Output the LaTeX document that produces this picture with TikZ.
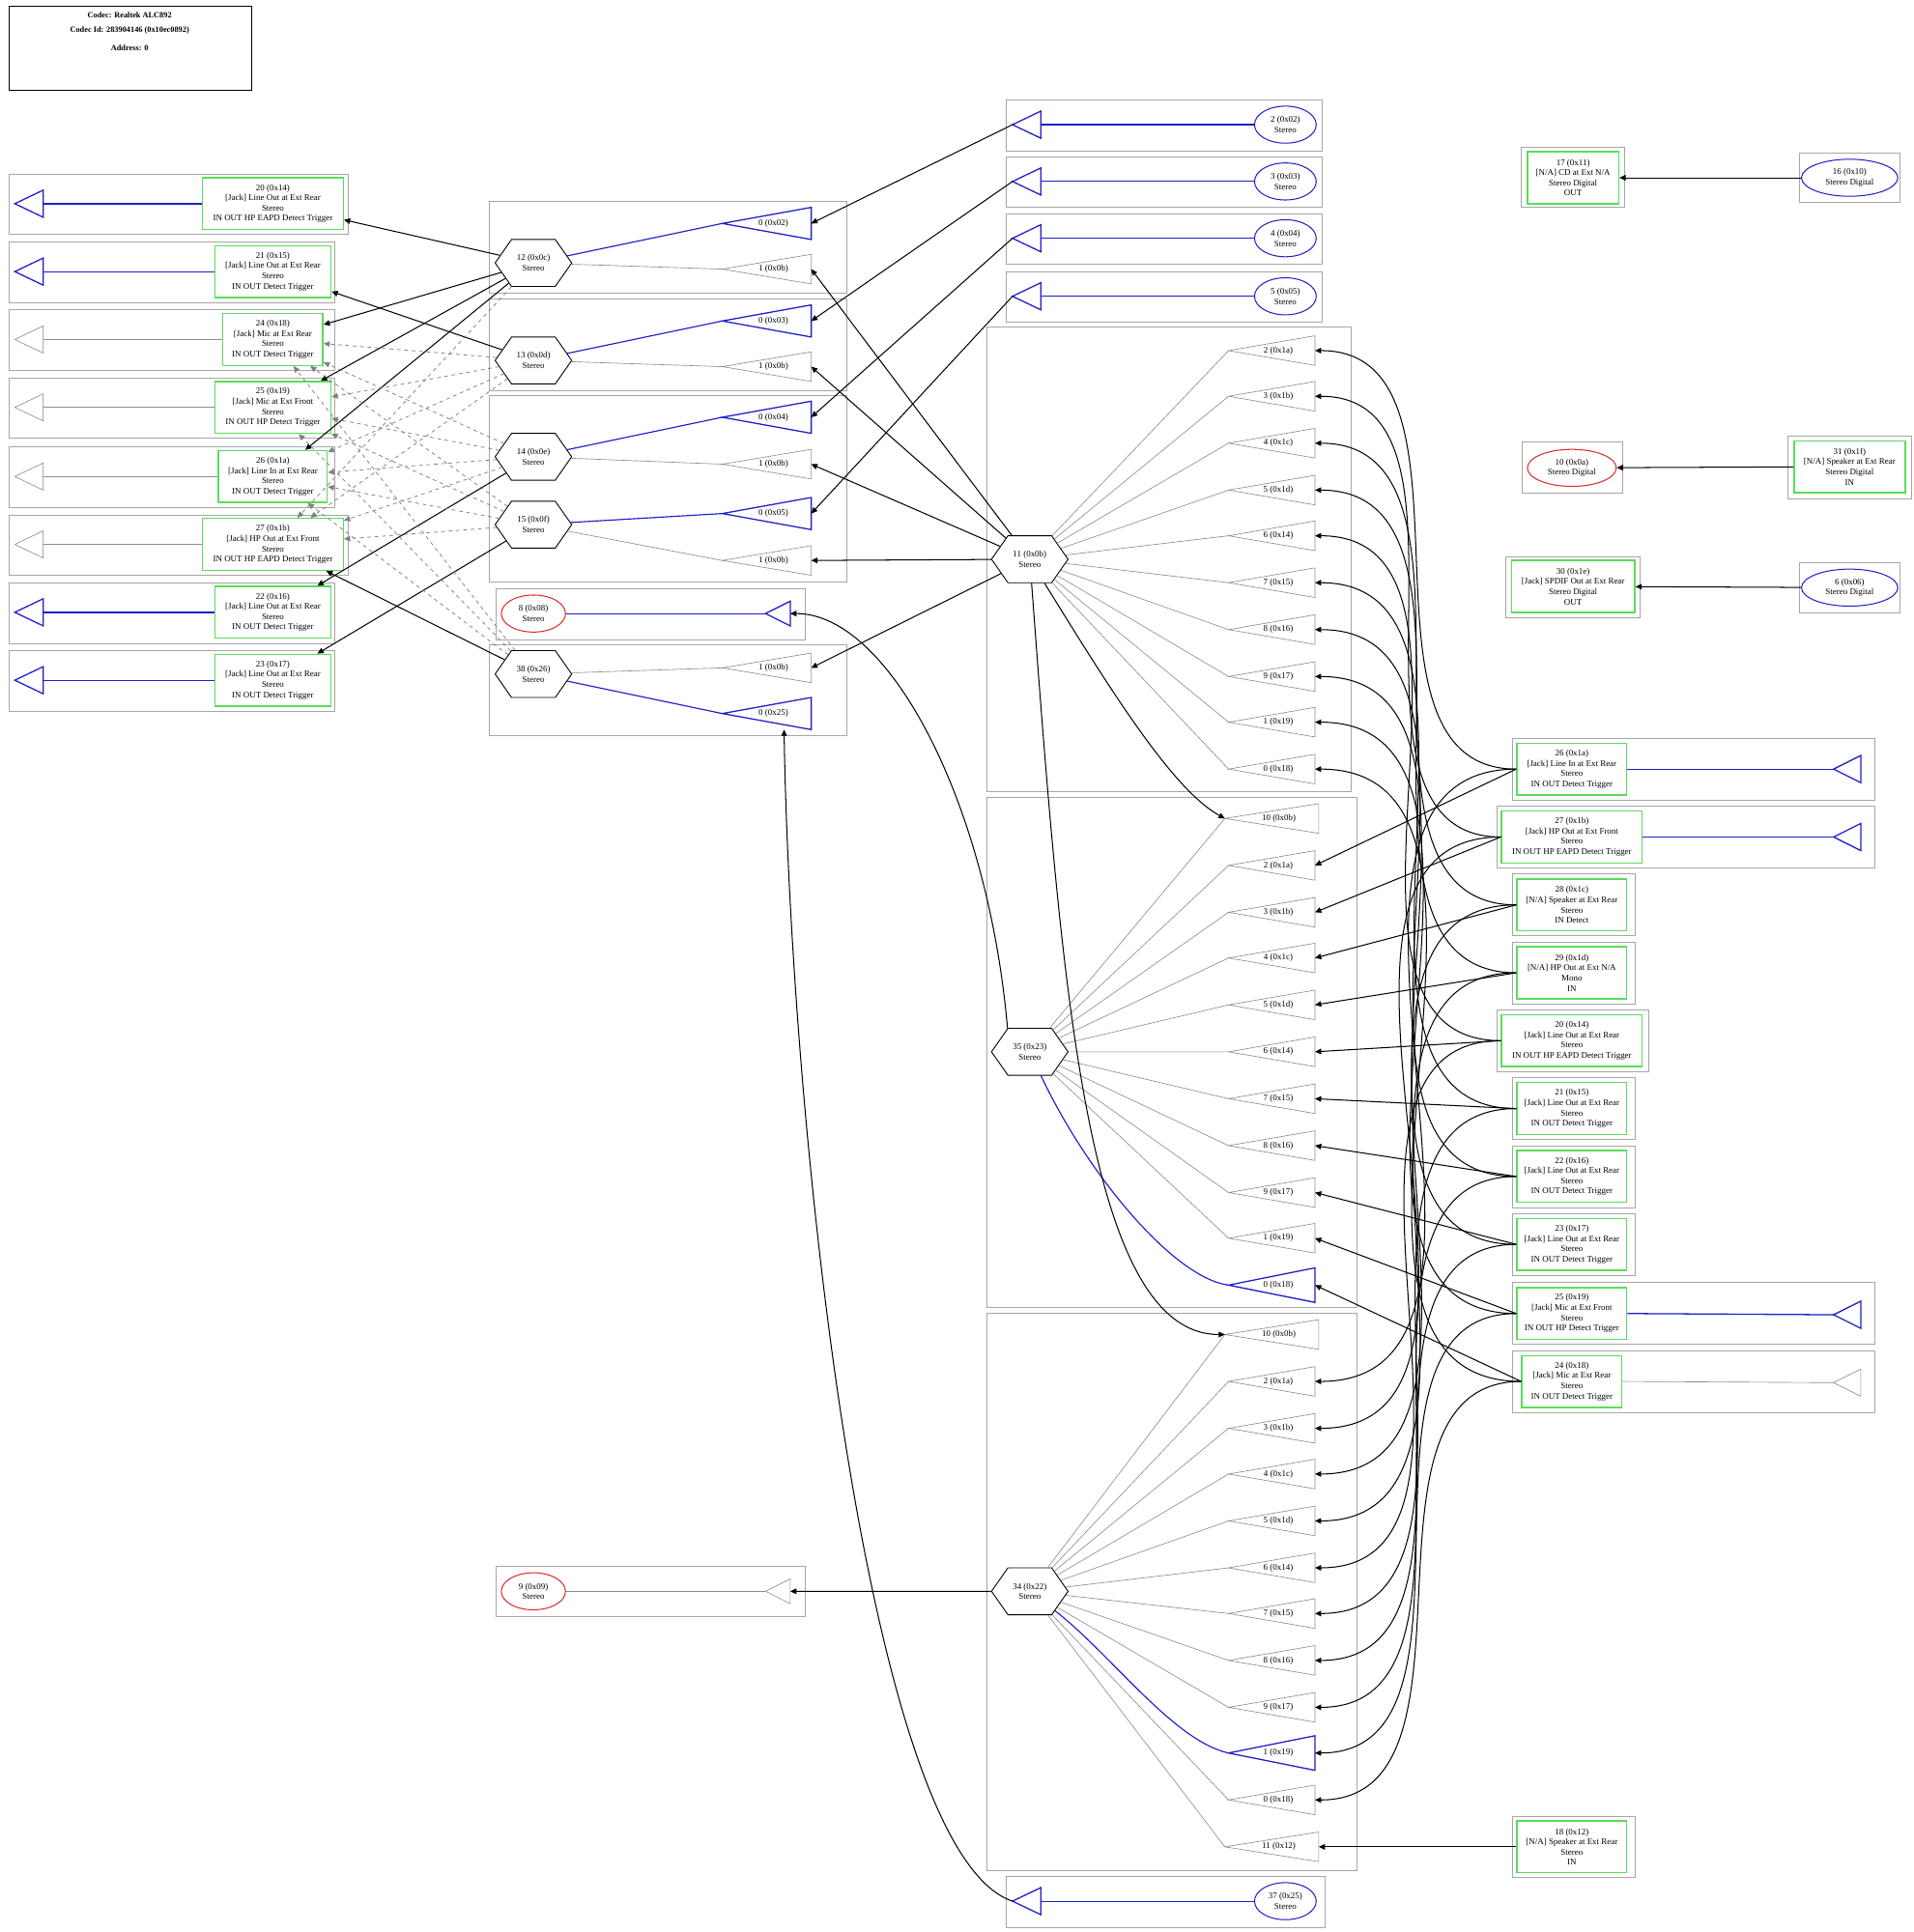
\documentclass[tikz,border=0pt]{standalone}
\usepackage{fontspec}
\setmainfont{Liberation Serif}
\usetikzlibrary{shapes.geometric,shapes.symbols,arrows.meta}
\definecolor{pg}{RGB}{90,220,90}
\definecolor{bl}{RGB}{30,30,200}
\definecolor{rd}{RGB}{220,40,40}
\newcommand\mytri[7]{%
 \draw[#7] ({#2-#4},#3) -- ({#2+#4},{#3-#5}) -- ({#2+#4},{#3+#5}) -- cycle;
 \coordinate (#1t) at ({#2-#4},#3); \coordinate (#1b) at ({#2+#4},#3);
 \node at ({#2+#4*0.15},#3) {#6};}
\newcommand\pinbox[6]{\node[pin,minimum width=#4,minimum height=#5] (#1) at (#2,#3) {#6};}
\begin{document}
\begin{tikzpicture}[x=1pt,y=-1pt,font=\fontsize{7}{8.3}\selectfont,
 clu/.style={draw=black!35,line width=0.5},
 pin/.style={draw=pg,line width=1.1,inner sep=0,align=center},
 hex/.style={signal,signal to=west and east,signal pointer angle=110,draw,minimum width=62,minimum height=38,inner sep=0,align=center,line width=0.7},
 ell/.style={ellipse,draw,align=center,inner sep=0,line width=0.8},
 arr/.style={-{Triangle[length=5pt,width=4.5pt]},line width=0.8},
 gl/.style={draw=black!45,line width=0.5},
 bt/.style={draw=bl,line width=1},
 bline/.style={draw=bl,line width=0.9},
 dsh/.style={-{Triangle[length=5pt,width=4.5pt]},draw=black!50,dashed,line width=0.6}]
\useasboundingbox (0,0) rectangle (1550,1565);
% codec box
\draw (7,5) rectangle (204,73);
\node[font=\fontsize{6.5}{7}\selectfont\bfseries] at (105,12) {Codec: Realtek ALC892};
\node[font=\fontsize{6.5}{7}\selectfont\bfseries] at (105,25) {Codec Id: 283904146 (0x10ec0892)};
\node[font=\fontsize{6.5}{7}\selectfont\bfseries] at (105,39) {Address: 0};
% ---------- left pins
\foreach \n/\y/\w/\xr/\txt/\st in {
 L20/165/114/282/{20 (0x14)\\{[Jack]} Line Out at Ext Rear\\Stereo\\IN OUT HP EAPD Detect Trigger}/bt,
 L21/220/94/271/{21 (0x15)\\{[Jack]} Line Out at Ext Rear\\Stereo\\IN OUT Detect Trigger}/bt,
 L24/275/81/271/{24 (0x18)\\{[Jack]} Mic at Ext Rear\\Stereo\\IN OUT Detect Trigger}/gl,
 L25/330/94/271/{25 (0x19)\\{[Jack]} Mic at Ext Front\\Stereo\\IN OUT HP Detect Trigger}/gl,
 L26/386/88/271/{26 (0x1a)\\{[Jack]} Line In at Ext Rear\\Stereo\\IN OUT Detect Trigger}/gl,
 L27/441/114/282/{27 (0x1b)\\{[Jack]} HP Out at Ext Front\\Stereo\\IN OUT HP EAPD Detect Trigger}/gl,
 L22/496/94/271/{22 (0x16)\\{[Jack]} Line Out at Ext Rear\\Stereo\\IN OUT Detect Trigger}/bt,
 L23/551/94/271/{23 (0x17)\\{[Jack]} Line Out at Ext Rear\\Stereo\\IN OUT Detect Trigger}/bt}{
 \draw[clu] (7,\y-24) rectangle (\xr,\y+25);
 \pinbox{\n}{221}{\y}{\w}{42}{\txt}
 \draw[\st] (12,\y) -- (35,\y-11) -- (35,\y+11) -- cycle;
 \draw[\st] (\n.west) -- (35,\y);
}
% ---------- middle clusters
\draw[clu] (396,163) rectangle (686,237);
\draw[clu] (396,242) rectangle (686,316);
\draw[clu] (396,320) rectangle (686,471);
\draw[clu] (402,477) rectangle (652,518);
\draw[clu] (396,522) rectangle (686,596);
\draw[clu] (402,1269) rectangle (652,1309);
\node[hex] (h12) at (432,213) {12 (0x0c)\\Stereo};
\node[hex] (h13) at (432,292) {13 (0x0d)\\Stereo};
\node[hex] (h14) at (432,370) {14 (0x0e)\\Stereo};
\node[hex] (h15) at (432,425) {15 (0x0f)\\Stereo};
\node[hex] (h38) at (432,546) {38 (0x26)\\Stereo};
\mytri{d02}{621}{181}{36}{13}{0 (0x02)}{bt}
\mytri{x12}{621}{218}{36}{12}{1 (0x0b)}{gl}
\mytri{d03}{621}{260}{36}{13}{0 (0x03)}{bt}
\mytri{x13}{621}{297}{36}{12}{1 (0x0b)}{gl}
\mytri{d04}{621}{338}{36}{13}{0 (0x04)}{bt}
\mytri{x14}{621}{376}{36}{12}{1 (0x0b)}{gl}
\mytri{d05}{621}{416}{36}{13}{0 (0x05)}{bt}
\mytri{x15}{621}{454}{36}{12}{1 (0x0b)}{gl}
\mytri{x38}{621}{541}{36}{12}{1 (0x0b)}{gl}
\mytri{d25}{621}{578}{36}{13}{0 (0x25)}{bt}
\node[ell,draw=rd,minimum width=52,minimum height=30] (e8) at (432,497) {8 (0x08)\\Stereo};
\draw[bt] (620,497) -- (640,487) -- (640,507) -- cycle; \coordinate (a8b) at (640,497);
\draw[bline] (e8) -- (620,497);
\node[ell,draw=rd,minimum width=52,minimum height=30] (e9) at (432,1289) {9 (0x09)\\Stereo};
\draw[gl] (620,1289) -- (640,1279) -- (640,1299) -- cycle; \coordinate (a9b) at (640,1289);
\draw[gl] (e9) -- (620,1289);
\foreach \h/\a/\b in {h12/d02/x12,h13/d03/x13,h14/d04/x14,h15/d05/x15,h38/d25/x38}{
 \draw[bline] (\h) -- (\a t); \draw[gl] (\h) -- (\b t);}
% left pin connections
\foreach \h/\p in {h12/L20,h12/L24,h12/L25,h12/L26,h13/L21,h14/L22,h15/L23,h38/L27}{\draw[arr] (\h) -- (\p);}
\foreach \h/\p in {h12/L27,h13/L24,h13/L25,h13/L26,h13/L27,h14/L24,h14/L25,h14/L26,h14/L27,h15/L24,h15/L25,h15/L26,h15/L27,h38/L24,h38/L25,h38/L26}{\draw[dsh] (\h) -- (\p);}
% ---------- top DAC clusters
\foreach \k/\y in {2/101,3/147,4/193,5/240}{
 \draw[clu] (815,\y-20) rectangle (1071,\y+21);
 \node[ell,draw=bl,minimum width=50,minimum height=30] (E\k) at (1041,\y) {\k\ (0x0\k)\\Stereo};
 \draw[bt] (820,\y) -- (843,\y-11) -- (843,\y+11) -- cycle;
 \coordinate (T\k t) at (820,\y);
 \draw[bline] (E\k) -- (843,\y);}
\draw[arr] (T2t) -- (d02b); \draw[arr] (T3t) -- (d03b);
\draw[arr] (T4t) -- (d04b); \draw[arr] (T5t) -- (d05b);
\draw[clu] (815,1520) rectangle (1073,1561);
\node[ell,draw=bl,minimum width=50,minimum height=30] (E37) at (1041,1540) {37 (0x25)\\Stereo};
\draw[bt] (820,1540) -- (843,1529) -- (843,1551) -- cycle; \coordinate (T37t) at (820,1540);
\draw[bline] (E37) -- (843,1540);
\draw[arr] (T37t) .. controls (700,1500) and (640,900) .. (635,591);
% ---------- right pins
\foreach \n/\y/\w/\txt in {
 R1a/623/89/{26 (0x1a)\\{[Jack]} Line In at Ext Rear\\Stereo\\IN OUT Detect Trigger},
 R1b/678/114/{27 (0x1b)\\{[Jack]} HP Out at Ext Front\\Stereo\\IN OUT HP EAPD Detect Trigger},
 R1c/733/89/{28 (0x1c)\\{[N/A]} Speaker at Ext Rear\\Stereo\\IN Detect},
 R1d/788/89/{29 (0x1d)\\{[N/A]} HP Out at Ext N/A\\Mono\\IN},
 R14/843/114/{20 (0x14)\\{[Jack]} Line Out at Ext Rear\\Stereo\\IN OUT HP EAPD Detect Trigger},
 R15/898/89/{21 (0x15)\\{[Jack]} Line Out at Ext Rear\\Stereo\\IN OUT Detect Trigger},
 R16/953/89/{22 (0x16)\\{[Jack]} Line Out at Ext Rear\\Stereo\\IN OUT Detect Trigger},
 R17/1008/89/{23 (0x17)\\{[Jack]} Line Out at Ext Rear\\Stereo\\IN OUT Detect Trigger},
 R19/1064/89/{25 (0x19)\\{[Jack]} Mic at Ext Front\\Stereo\\IN OUT HP Detect Trigger},
 R18/1119/81/{24 (0x18)\\{[Jack]} Mic at Ext Rear\\Stereo\\IN OUT Detect Trigger},
 R12/1496/89/{18 (0x12)\\{[N/A]} Speaker at Ext Rear\\Stereo\\IN}}{
 \pinbox{\n}{1273}{\y}{\w}{42}{\txt}}
\draw[clu] (1225,598) rectangle (1518,648);
\draw[clu] (1212,653) rectangle (1518,703);
\draw[clu] (1225,708) rectangle (1324,758);
\draw[clu] (1225,763) rectangle (1324,813);
\draw[clu] (1212,818) rectangle (1335,868);
\draw[clu] (1225,873) rectangle (1324,923);
\draw[clu] (1225,928) rectangle (1324,978);
\draw[clu] (1225,983) rectangle (1324,1033);
\draw[clu] (1225,1039) rectangle (1518,1089);
\draw[clu] (1225,1094) rectangle (1518,1144);
\draw[clu] (1225,1471) rectangle (1324,1521);
\foreach \n/\y/\st in {R1a/623/bt,R1b/678/bt,R19/1065/bt,R18/1120/gl}{
 \draw[\st] (1485,\y) -- (1507,\y-11) -- (1507,\y+11) -- cycle;
 \draw[\st] (\n.east) -- (1485,\y);}
% top right
\draw[clu] (1232,119) rectangle (1316,168);
\pinbox{R11}{1274}{144}{74}{42}{17 (0x11)\\{[N/A]} CD at Ext N/A\\Stereo Digital\\OUT}
\draw[clu] (1457,124) rectangle (1539,164);
\node[ell,draw=bl,minimum width=78,minimum height=30] (E16) at (1498,144) {16 (0x10)\\Stereo Digital};
\draw[arr] (E16) -- (R11);
\draw[clu] (1233,358) rectangle (1314,399);
\node[ell,draw=rd,minimum width=72,minimum height=30] (E10) at (1273,379) {10 (0x0a)\\Stereo Digital};
\draw[clu] (1448,353) rectangle (1548,404);
\pinbox{R1f}{1498}{378}{90}{42}{31 (0x1f)\\{[N/A]} Speaker at Ext Rear\\Stereo Digital\\IN}
\draw[arr] (R1f) -- (E10);
\draw[clu] (1219,451) rectangle (1328,500);
\pinbox{R1e}{1274}{475}{100}{42}{30 (0x1e)\\{[Jack]} SPDIF Out at Ext Rear\\Stereo Digital\\OUT}
\draw[clu] (1457,456) rectangle (1539,496);
\node[ell,draw=bl,minimum width=78,minimum height=30] (E6) at (1498,476) {6 (0x06)\\Stereo Digital};
\draw[arr] (E6) -- (R1e);
% ---------- mixer 11
\draw[clu] (799,265) rectangle (1094,641);
\node[hex] (h11) at (834,453) {11 (0x0b)\\Stereo};
\foreach \k/\m/\yy in {1a/2/284,1b/3/321,1c/4/359,1d/5/397,14/6/434,15/7/472,16/8/510,17/9/548,19/1/585,18/0/623}{
 \mytri{c\k}{1030}{\yy}{35}{12}{\m\ (0x\k)}{gl}
 \draw[gl] (h11) -- (c\k t);
 \draw[arr] (R\k.west) to[out=180,in=0] (c\k b);}
\foreach \b in {x12,x13,x14,x15,x38}{\draw[arr] (h11) -- (\b b);}
% ---------- mixer 35
\draw[clu] (799,646) rectangle (1099,1059);
\node[hex] (h35) at (834,852) {35 (0x23)\\Stereo};
\mytri{y0b}{1030}{663}{38}{12}{10 (0x0b)}{gl}
\draw[gl] (h35) -- (y0bt);
\foreach \k/\m/\yy in {1a/2/701,1b/3/739,1c/4/776,1d/5/814,14/6/852,15/7/890,16/8/928,17/9/966,19/1/1003}{
 \mytri{y\k}{1030}{\yy}{35}{12}{\m\ (0x\k)}{gl}
 \draw[gl] (h35) -- (y\k t);
 \draw[arr] (R\k.west) -- (y\k b);}
\mytri{y18}{1030}{1041}{35}{14}{0 (0x18)}{bt}
\draw[bline] (h35) .. controls (880,950) and (950,1035) .. (y18t);
\draw[arr] (R18.west) -- (y18b);
\draw[arr] (h11) .. controls (900,560) and (950,640) .. (y0bt);
\draw[arr] (h35.north west) .. controls (800,650) and (720,497) .. (a8b);
% ---------- mixer 34
\draw[clu] (799,1064) rectangle (1099,1515);
\node[hex] (h34) at (834,1289) {34 (0x22)\\Stereo};
\mytri{z0b}{1030}{1081}{38}{12}{10 (0x0b)}{gl}
\draw[gl] (h34) -- (z0bt);
\foreach \k/\m/\yy in {1a/2/1119,1b/3/1157,1c/4/1194,1d/5/1232,14/6/1270,15/7/1307,16/8/1345,17/9/1383,18/0/1458}{
 \mytri{z\k}{1030}{\yy}{35}{12}{\m\ (0x\k)}{gl}
 \draw[gl] (h34) -- (z\k t);
 \draw[arr] (R\k.west) to[out=180,in=0] (z\k b);}
\mytri{z19}{1030}{1420}{35}{14}{1 (0x19)}{bt}
\draw[bline] (h34) .. controls (900,1340) and (950,1410) .. (z19t);
\draw[arr] (R19.west) to[out=180,in=0] (z19b);
\mytri{z12}{1030}{1496}{38}{12}{11 (0x12)}{gl}
\draw[gl] (h34) -- (z12t);
\draw[arr] (R12) -- (z12b);
\draw[arr] (h11) .. controls (860,800) and (880,1081) .. (z0bt);
\draw[arr] (h34) -- (a9b);
\end{tikzpicture}
\end{document}
